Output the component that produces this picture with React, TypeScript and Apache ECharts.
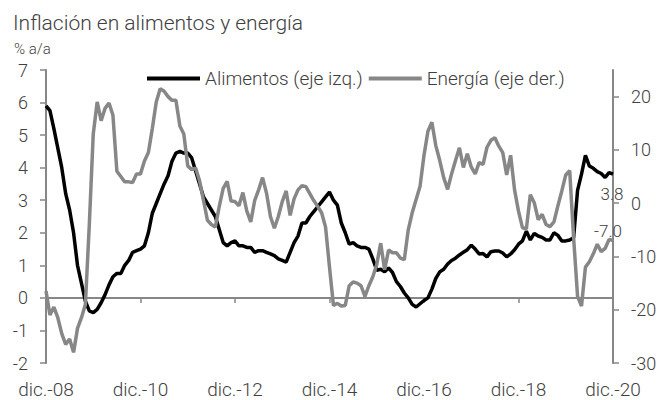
import React, { useEffect, useRef } from "react";
import * as echarts from "echarts";

const MONTHS = ["ene.", "feb.", "mar.", "abr.", "may.", "jun.", "jul.", "ago.", "sep.", "oct.", "nov.", "dic."];
const START_YEAR = 2008; // dic.-08
const N_MONTHS = 145;

const categories: string[] = [];
for (let i = 0; i < N_MONTHS; i++) {
  const m = (11 + i) % 12;
  const y = START_YEAR + Math.floor((11 + i) / 12);
  categories.push(MONTHS[m] + "-" + String(y % 100).padStart(2, "0"));
}

// Alimentos, % a/a (eje izq.)
const alimentos = [
  5.9, 5.75, 5.2, 4.6, 4.0, 3.2, 2.7, 2.0, 1.0, 0.45, -0.1, -0.4,
  -0.45, -0.35, -0.15, 0.1, 0.4, 0.65, 0.75, 0.75, 1.0, 1.15, 1.4, 1.45,
  1.5, 1.6, 2.0, 2.6, 2.9, 3.2, 3.5, 3.75, 4.2, 4.45, 4.5, 4.45,
  4.45, 4.3, 3.9, 3.5, 3.1, 2.9, 2.7, 2.5, 2.1, 1.7, 1.6, 1.7,
  1.75, 1.6, 1.6, 1.55, 1.55, 1.4, 1.45, 1.45, 1.4, 1.35, 1.3, 1.2,
  1.15, 1.1, 1.4, 1.7, 1.9, 2.3, 2.3, 2.5, 2.65, 2.8, 2.95, 3.1,
  3.25, 3.0, 2.85, 2.3, 2.0, 1.65, 1.7, 1.6, 1.55, 1.55, 1.5, 1.2,
  0.85, 0.88, 0.8, 0.92, 0.78, 0.5, 0.35, 0.15, 0.0, -0.2, -0.28, -0.18,
  -0.08, 0.0, 0.27, 0.6, 0.8, 0.88, 1.04, 1.15, 1.22, 1.32, 1.4, 1.48,
  1.62, 1.5, 1.35, 1.36, 1.26, 1.42, 1.44, 1.44, 1.38, 1.26, 1.35, 1.48,
  1.65, 1.75, 2.05, 1.78, 1.98, 1.9, 1.86, 1.78, 1.78, 2.0, 1.92, 1.75,
  1.75, 1.78, 1.85, 3.3, 3.8, 4.38, 4.05, 3.98, 3.88, 3.82, 3.7, 3.85,
  3.8,
];

// Energía, % a/a (eje der.)
const energia = [
  -16.5, -21, -19.5, -21.5, -24.5, -26.5, -25.5, -28, -23.5, -21.5, -19, -4,
  13, 19, 15.5, 17.8, 18.8, 16.5, 6, 5, 4.0, 4.0, 3.9, 5.5,
  5.5, 7.9, 9.5, 14, 19, 21.5, 21, 20, 19.3, 19.3, 14.5, 13,
  7, 6.3, 6.6, 4.2, 0.5, -3.2, -4.0, -4.5, -0.6, 2.8, 4.1, 0.4,
  0.3, -0.5, 2.0, -1.5, -3.5, 0.5, 2.5, 4.8, 1.9, -2.5, -4.7, -2.5,
  0.3, 2.3, -2.3, 0.8, 2.5, 3.3, 3.1, 1.8, 0.5, -0.6, -1.8, -4.5,
  -12, -19.2, -18.8, -19.3, -19.2, -15.5, -14.8, -15.0, -15.5, -17.5, -15.5, -13.8,
  -11.5, -7.5, -12.5, -8.8, -9.3, -9.3, -10.3, -10.6, -5.0, -1.8, 0.7, 3.2,
  9.0, 13.5, 15.2, 10.8, 8.0, 4.8, 2.6, 5.5, 8.0, 10.4, 6.7, 9.3,
  6.8, 5.5, 7.6, 7.3, 10.5, 11.8, 12.3, 10.7, 9.5, 5.3, 9.0, 2.5,
  -1.5, -4.6, -4.8, 1.6, 0.1, -3.1, -2.1, -4.0, -4.4, -3.5, -0.5, 2.3,
  5.3, 6.1, -6.5, -17.5, -19.3, -12, -11, -9.5, -7.7, -9.1, -8.5, -6.8,
  -7.0,
];

const leftTicks = [-2, -1, 0, 1, 2, 3, 4, 5, 6, 7];
const rightTicks = [-30, -20, -10, 0, 10, 20];
const RIGHT_MAX = 25;
const LABEL_EVERY = 24;

const TITLE = "Inflación en alimentos y energía";
const SUBTITLE = "% a/a";
const NAME_A = "Alimentos (eje izq.)";
const NAME_E = "Energía (eje der.)";

const FONT = "Roboto";
const TEXT = "#404040";
const AXIS = "#878787";
const GRAY = "#878787";

export default function App() {
  const ref = useRef<HTMLDivElement>(null);
  useEffect(() => {
    if (!ref.current) return;
    const chart = echarts.init(ref.current, null, { renderer: "svg" });
    const lastA = alimentos.length - 1;
    const lastE = energia.length - 1;
    chart.setOption({
      animation: false,
      backgroundColor: "#ffffff",
      textStyle: { fontFamily: FONT, fontWeight: 300, color: TEXT },
      title: [
        {
          text: TITLE,
          left: 8,
          top: 7,
          textStyle: { fontFamily: FONT, fontWeight: 300, fontSize: 21, color: TEXT },
        },
        {
          text: SUBTITLE,
          left: 9,
          top: 36,
          textStyle: { fontFamily: FONT, fontWeight: 300, fontSize: 15, color: TEXT },
        },
      ],
      legend: {
        left: 142,
        top: 64,
        icon: "rect",
        itemWidth: 53,
        itemHeight: 4,
        itemGap: 6,
        textStyle: { fontFamily: FONT, fontWeight: 300, fontSize: 19, color: TEXT },
        data: [NAME_A, NAME_E],
      },
      grid: { left: 46, right: 47, top: 70, bottom: 37 },
      xAxis: [
        {
          type: "category",
          data: categories,
          boundaryGap: false,
          position: "bottom",
          axisLine: { show: true, onZero: true, onZeroAxisIndex: 0, lineStyle: { color: AXIS, width: 2 } },
          axisTick: {
            show: true,
            length: 5,
            interval: (i: number) => i % LABEL_EVERY === 0,
            lineStyle: { color: AXIS, width: 1.5 },
          },
          axisLabel: { show: false },
          splitLine: { show: false },
        },
        {
          type: "category",
          data: categories,
          boundaryGap: false,
          position: "bottom",
          axisLine: { show: false, onZero: false },
          axisTick: { show: false },
          axisLabel: {
            show: true,
            interval: (i: number) => i % LABEL_EVERY === 0,
            fontFamily: FONT,
            fontWeight: 300,
            fontSize: 19,
            color: TEXT,
            margin: 17,
          },
          splitLine: { show: false },
        },
      ],
      yAxis: [
        {
          type: "value",
          position: "left",
          min: leftTicks[0],
          max: leftTicks[leftTicks.length - 1],
          interval: 1,
          axisLine: { show: true, onZero: false, lineStyle: { color: AXIS, width: 2 } },
          axisTick: { show: true, length: 6, lineStyle: { color: AXIS, width: 1.5 } },
          axisLabel: { fontFamily: FONT, fontWeight: 300, fontSize: 18, color: TEXT, margin: 18 },
          splitLine: { show: false },
        },
        {
          type: "value",
          position: "right",
          min: rightTicks[0],
          max: RIGHT_MAX,
          interval: 10,
          axisLine: { show: true, onZero: false, lineStyle: { color: AXIS, width: 2 } },
          axisTick: { show: true, length: 6, customValues: rightTicks, lineStyle: { color: AXIS, width: 1.5 } },
          axisLabel: {
            customValues: rightTicks,
            formatter: (v: number) => (rightTicks.indexOf(v) >= 0 ? String(v) : ""),
            fontFamily: FONT,
            fontWeight: 300,
            fontSize: 18,
            color: TEXT,
            margin: 18,
          },
          splitLine: { show: false },
        },
      ],
      series: [
        {
          name: NAME_A,
          type: "line",
          xAxisIndex: 0,
          yAxisIndex: 0,
          data: alimentos,
          symbol: "none",
          showSymbol: false,
          lineStyle: { color: "#000000", width: 3.5 },
          itemStyle: { color: "#000000" },
          z: 2,
          markPoint: {
            symbol: "circle",
            symbolSize: 0,
            data: [{ coord: [lastA, alimentos[lastA]], value: alimentos[lastA] }],
            label: {
              show: true,
              position: "inside",
              offset: [-1, 20],
              formatter: (p: any) => Number(p.value).toFixed(1),
              fontFamily: FONT,
              fontWeight: 300,
              fontSize: 17,
              color: TEXT,
            },
          },
        },
        {
          name: NAME_E,
          type: "line",
          xAxisIndex: 0,
          yAxisIndex: 1,
          data: energia,
          symbol: "none",
          showSymbol: false,
          lineStyle: { color: GRAY, width: 3.5 },
          itemStyle: { color: GRAY },
          z: 3,
          markPoint: {
            symbol: "circle",
            symbolSize: 0,
            data: [{ coord: [lastE, energia[lastE]], value: energia[lastE] }],
            label: {
              show: true,
              position: "inside",
              offset: [-5, -9],
              formatter: (p: any) => Number(p.value).toFixed(1),
              fontFamily: FONT,
              fontWeight: 300,
              fontSize: 17,
              color: TEXT,
            },
          },
        },
      ],
    });
    return () => chart.dispose();
  }, []);
  return (
    <div
      ref={ref}
      style={{ position: "fixed", left: 0, top: 0, width: 660, height: 400, background: "#fff" }}
    />
  );
}
